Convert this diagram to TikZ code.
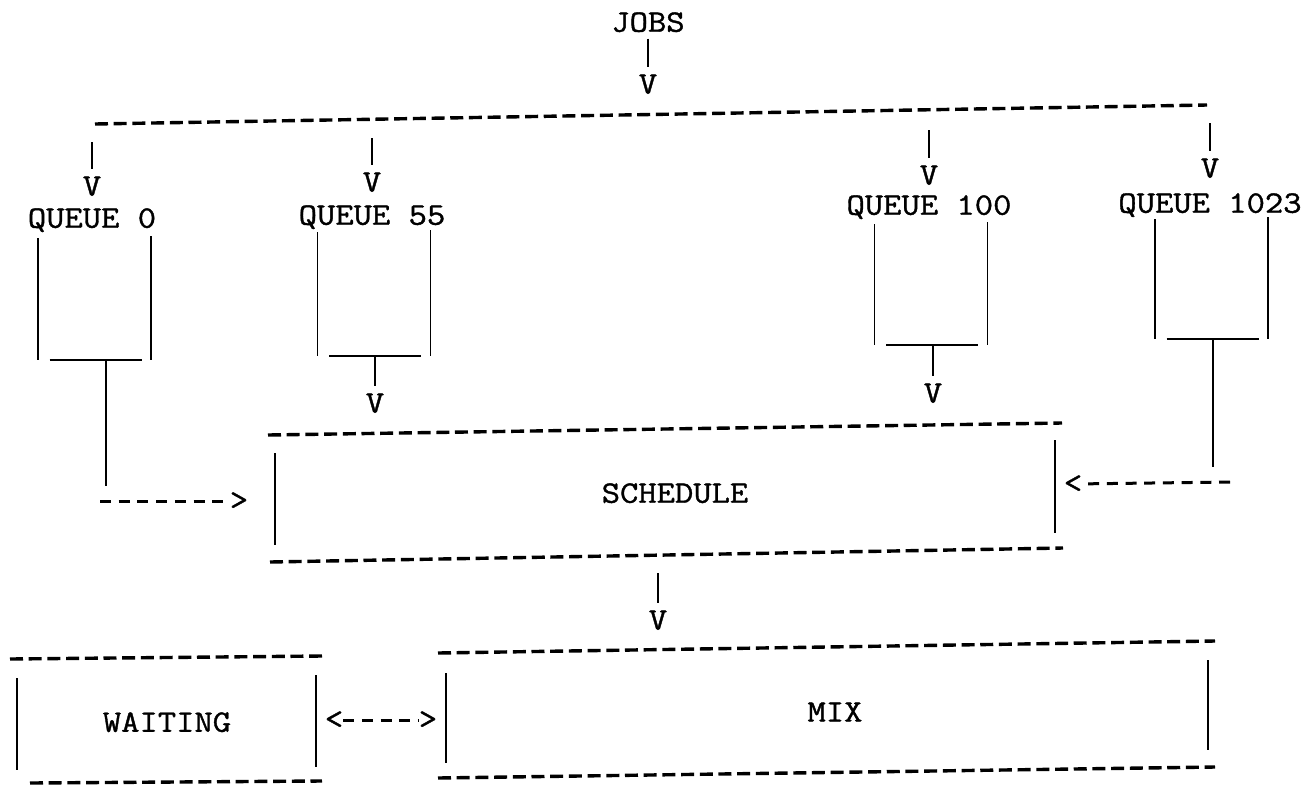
\documentclass[tikz,border=0pt]{standalone}
\usepackage{fontspec}
\usepackage{tikz}
\usetikzlibrary{positioning}
\newfontfamily\ttcourier[FakeStretch=1.14,FakeBold=1.2]{Latin Modern Mono}

\begin{document}
\begin{tikzpicture}[
  x=1pt,y=-1pt,
  txt/.style ={font=\ttcourier\fontsize{31.2}{31.2}\selectfont,inner sep=0pt,
               text depth=0pt,outer xsep=0pt,outer ysep=7pt},
  vtip/.style={txt},
  chev/.style={txt,outer ysep=0pt},
  pipe/.style ={line width=1.5pt},
  floor/.style={line width=2.6pt},
  dline/.style={line width=3.4pt,dash pattern=on 13pt off 5.7pt},
  aline/.style={line width=3pt,dash pattern=on 11pt off 7.7pt}
]
\useasboundingbox (0,0) rectangle (1315,785);

% jobs coming in
\node[txt]  (jobs)  at (648,22) {JOBS};
\node[vtip] (jobsv) at (648,84) {V};
\draw[pipe] (jobs) -- (jobsv);
\draw[dline] (95,124) -- (1207,105);

% the queues
\foreach \q/\x/\c/\t/\vy/\ly/\s/\f in {
    0/92/94.5/142/186/218/238/360,
    55/372/374/138/182/215/232/356,
    100/929/931/130/175/205/224/345,
    1023/1210/1211.5/123/168/203/219/339}{
  \coordinate (d\q) at (\x,\t);
  \node[vtip] (v\q) at (\x,\vy) {V};
  \node[txt]  (q\q) at (\x,\ly) {QUEUE \q};
  \draw[pipe] (d\q) -- (v\q);
  \draw[pipe] (\c-56.5,\s) -- (\c-56.5,\f);
  \draw[pipe] (\c+56.5,\s-2) -- (\c+56.5,\f);
  \draw[floor] (\c-45,\f) -- (\c+47,\f);
}

% out of the queues
\coordinate (f0)    at (106,361);
\coordinate (k0)    at (106,486);
\coordinate (f55)   at (375,357);
\coordinate (f100)  at (933,346);
\coordinate (f1023) at (1213,340);
\coordinate (k1023) at (1213,467);
\node[vtip] (w55)  at (375,403) {V};
\node[vtip] (w100) at (933,393) {V};
\draw[pipe] (f0) -- (k0);
\draw[pipe] (f55) -- (w55);
\draw[pipe] (f100) -- (w100);
\draw[pipe] (f1023) -- (k1023);

\coordinate (a0)    at (100,501);
\coordinate (a1023) at (1230,482);
\node[chev] (gt0)    at (239,501)  {>};
\node[chev] (lt1023) at (1073,484) {<};
\draw[aline] (a0) -- (gt0);
\draw[aline] (a1023) -- (lt1023);

% schedule
\node[txt] (sched) at (675,493) {SCHEDULE};
\draw[dline] (268,435) -- (1062,423);
\draw[dline] (270,562) -- (1063,548);
\draw[pipe] (275,453) -- (275,545);
\draw[pipe] (1055,440) -- (1055,533);

\coordinate (sm) at (658,573);
\node[vtip] (smv) at (658,620) {V};
\draw[pipe] (sm) -- (smv);

% waiting and mix
\node[txt] (wait) at (167,722) {WAITING};
\draw[dline] (10,659) -- (322,656);
\draw[dline] (30,783) -- (322,781);
\draw[pipe] (17,678) -- (17,770);
\draw[pipe] (316,675) -- (316,767);

\node[txt] (mix) at (835,712) {MIX};
\draw[dline] (438,653) -- (1215,641);
\draw[dline] (438,778) -- (1215,767);
\draw[pipe] (446,673) -- (446,763);
\draw[pipe] (1208,660) -- (1208,750);

\node[chev] (wl) at (334,720) {<};
\node[chev] (wr) at (428,720) {>};
\draw[aline] (wl) -- (wr);
\end{tikzpicture}
\end{document}
